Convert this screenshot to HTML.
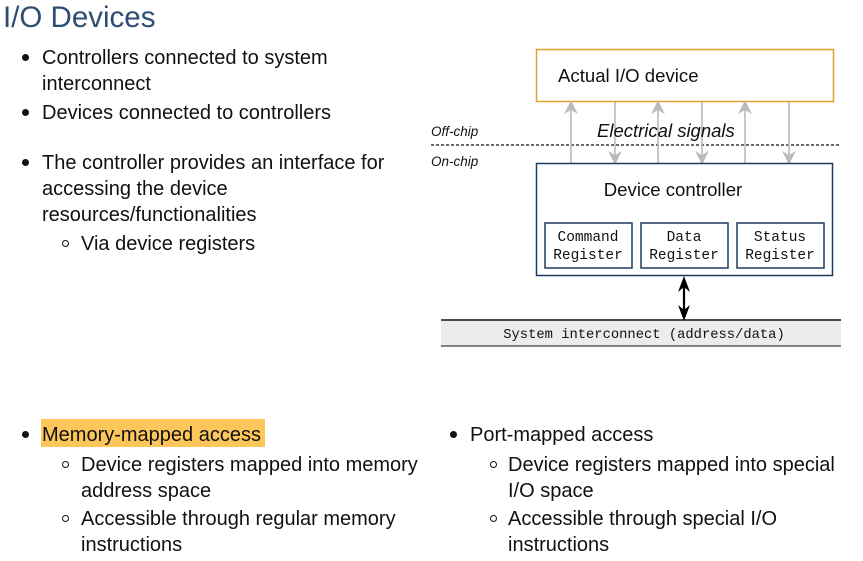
<!DOCTYPE html>
<html><head><meta charset="utf-8"><style>
body{margin:0;width:863px;height:561px;background:#fff;position:relative;overflow:hidden;font-family:"Liberation Sans",sans-serif;color:#111}
.t{position:absolute;font-size:20px;line-height:26px;white-space:nowrap}
.b{position:absolute;width:7px;height:7px;border-radius:50%;background:#111}
.c{position:absolute;width:7px;height:7px;border-radius:50%;border:1.3px solid #111;box-sizing:border-box}
</style></head><body>
<div class="t" style="left:3px;top:1px;font-size:29.5px;line-height:34px;color:#2d4d73">I/O Devices</div>

<div class="b" style="left:22px;top:54px"></div>
<div class="t" style="left:42px;top:45px">Controllers connected to system<br>interconnect</div>
<div class="b" style="left:22px;top:109px"></div>
<div class="t" style="left:42px;top:100px">Devices connected to controllers</div>
<div class="b" style="left:22px;top:159px"></div>
<div class="t" style="left:42px;top:150px">The controller provides an interface for<br>accessing the device<br>resources/functionalities</div>
<div class="c" style="left:62px;top:240px"></div>
<div class="t" style="left:81px;top:231px">Via device registers</div>

<div style="position:absolute;left:41px;top:419px;width:224px;height:28px;background:#fdc65a"></div>
<div class="b" style="left:22px;top:431px"></div>
<div class="t" style="left:42px;top:422px">Memory-mapped access</div>
<div class="c" style="left:62px;top:461px"></div>
<div class="t" style="left:81px;top:452px">Device registers mapped into memory<br>address space</div>
<div class="c" style="left:62px;top:515px"></div>
<div class="t" style="left:81px;top:506px">Accessible through regular memory<br>instructions</div>

<div class="b" style="left:450px;top:431px"></div>
<div class="t" style="left:470px;top:422px">Port-mapped access</div>
<div class="c" style="left:490px;top:461px"></div>
<div class="t" style="left:508px;top:452px">Device registers mapped into special<br>I/O space</div>
<div class="c" style="left:490px;top:515px"></div>
<div class="t" style="left:508px;top:506px">Accessible through special I/O<br>instructions</div>

<svg style="position:absolute;left:0;top:0" width="863" height="561">
<rect x="536.5" y="49.5" width="297" height="52" fill="#fff" stroke="#e0a232" stroke-width="1.5"/>
<text x="558" y="82" font-family="Liberation Sans" font-size="18.6" fill="#111">Actual I/O device</text>
<line x1="431" y1="145" x2="841" y2="145" stroke="#111" stroke-width="1.2" stroke-dasharray="3,2"/>
<text x="431" y="136" font-family="Liberation Sans" font-style="italic" font-size="13.5" fill="#111">Off-chip</text>
<text x="431" y="166" font-family="Liberation Sans" font-style="italic" font-size="13.5" fill="#111">On-chip</text>
<g stroke="#bbb" stroke-width="1.6" fill="#bbb">
<line x1="571" y1="163" x2="571" y2="106"/><polygon points="566,112 571,102 576,112 571,109"/>
<line x1="658" y1="163" x2="658" y2="106"/><polygon points="653,112 658,102 663,112 658,109"/>
<line x1="745" y1="163" x2="745" y2="106"/><polygon points="740,112 745,102 750,112 745,109"/>
<line x1="615" y1="102" x2="615" y2="159"/><polygon points="610,153 615,163 620,153 615,156"/>
<line x1="702" y1="102" x2="702" y2="159"/><polygon points="697,153 702,163 707,153 702,156"/>
<line x1="789" y1="102" x2="789" y2="159"/><polygon points="784,153 789,163 794,153 789,156"/>
</g>
<text x="597" y="137" font-family="Liberation Sans" font-style="italic" font-size="18.5" fill="#111">Electrical signals</text>
<rect x="536.5" y="163.5" width="296" height="112" fill="#fff" stroke="#1e3a5f" stroke-width="1.5"/>
<text x="673" y="196" text-anchor="middle" font-family="Liberation Sans" font-size="18.6" fill="#111">Device controller</text>
<g fill="#fff" stroke="#1e3a5f" stroke-width="1.5">
<rect x="545" y="223" width="87" height="45"/>
<rect x="641" y="223" width="87" height="45"/>
<rect x="737" y="223" width="87" height="45"/>
</g>
<g font-family="Liberation Mono" font-size="14.5" fill="#111" text-anchor="middle">
<text x="588" y="241">Command</text><text x="588" y="259">Register</text>
<text x="684" y="241">Data</text><text x="684" y="259">Register</text>
<text x="780" y="241">Status</text><text x="780" y="259">Register</text>
</g>
<rect x="441" y="320" width="400" height="26" fill="#ececec"/>
<line x1="441" y1="320" x2="841" y2="320" stroke="#111" stroke-width="1.5"/>
<line x1="441" y1="346" x2="841" y2="346" stroke="#111" stroke-width="1"/>
<text x="644" y="338" text-anchor="middle" font-family="Liberation Mono" font-size="13.8" fill="#111">System interconnect (address/data)</text>
<line x1="684" y1="284" x2="684" y2="312" stroke="#000" stroke-width="2.2"/>
<polygon points="684,276 678,292 684,287 690,292" fill="#000"/>
<polygon points="684,321 678,305 684,310 690,305" fill="#000"/>
</svg>
</body></html>
